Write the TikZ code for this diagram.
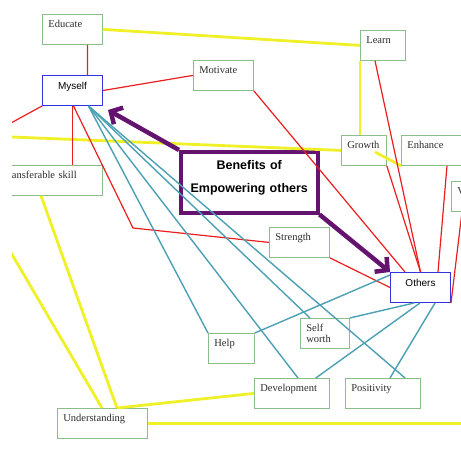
\documentclass[tikz,border=0pt]{standalone}
\usepackage{fontspec}
\setmainfont{Liberation Serif}
\setsansfont{Liberation Sans}
\usepackage{xcolor}
\usetikzlibrary{arrows.meta}
\definecolor{boxgreen}{RGB}{140,190,140}
\definecolor{boxblue}{RGB}{50,50,225}
\definecolor{linered}{RGB}{235,30,30}
\definecolor{lineteal}{RGB}{75,160,180}
\definecolor{lineyellow}{RGB}{240,240,40}
\definecolor{benefitpurple}{RGB}{100,20,110}
\definecolor{labelgray}{RGB}{45,45,45}

\begin{document}
\begin{tikzpicture}[x=1pt,y=-1pt,
    idea/.style={draw=boxgreen, line width=0.8pt, anchor=north west, inner xsep=6pt, inner ysep=0pt,
        text height=13pt, text depth=17pt, align=left, text=labelgray, font=\fontsize{10.5}{11}\selectfont},
    person/.style={idea, draw=boxblue, line width=1pt, align=center, text=black, text height=14pt, text depth=16pt,
        font=\sffamily\fontsize{10}{12}\selectfont},
    redlink/.style={draw=linered, line width=1.2pt},
    teallink/.style={draw=lineteal, line width=1.4pt},
    yellowlink/.style={draw=lineyellow, line width=2.8pt},
    bigarrow/.style={draw=benefitpurple, line width=4.5pt, -{Straight Barb[length=9pt,width=19pt]}}]
        \useasboundingbox (0,0) rectangle (461,461);
        \clip (12,0) rectangle (461,461);

        \node[idea, text width=48pt] (educate) at (42,14) {Educate};
        \node[idea, text width=33pt] (learn) at (360,30) {Learn};
        \node[person, text width=48pt] (myself) at (42,75) {Myself};
        \node[idea, text width=48pt] (motivate) at (193,60) {Motivate};
        \node[idea, text width=33pt] (growth) at (341,135) {Growth};
        \node[idea, text width=58pt] (enhance) at (401,135) {Enhance};
        \node[idea, text width=40pt] (partial) at (451,181) {V};
        \node[idea, text width=94pt] (transfer) at (-4,165) {Transferable skill};
        \node[idea, text width=48pt] (strength) at (269,227) {Strength};
        \node[person, text width=48pt] (others) at (390,272) {Others};
        \node[idea, text width=34pt] (help) at (208,333) {Help};
        \node[idea, text width=37pt] (selfworth) at (300,318) {Self\\worth};
        \node[idea, text width=63pt] (development) at (254,378) {Development};
        \node[idea, text width=63pt] (positivity) at (345,378) {Positivity};
        \node[idea, text width=78pt] (understanding) at (57,408) {Understanding};
        \node[draw=benefitpurple, line width=3.5pt, anchor=north west, inner xsep=0pt, inner ysep=0pt,
            text width=137pt, text height=18pt, text depth=43pt, align=center,
            font=\sffamily\bfseries\fontsize{12.5}{23}\selectfont] (benefits) at (179,150) {Benefits of\\Empowering others};

        \coordinate (westtop) at (0,136.5);
        \coordinate (westmid) at (0,129);
        \coordinate (westlow) at (0,234);
        \coordinate (eastlow) at (470,423);
        \coordinate (bend) at (133,228);

        \draw[yellowlink] (educate.east) -- (learn.west);
        \draw[yellowlink] (learn.south west) -- (learn.south west |- growth.north);
        \draw[yellowlink] (westtop) -- (growth.west);
        \draw[yellowlink] ([xshift=34pt,yshift=-17pt]growth.north west) -- (enhance.south west);
        \draw[yellowlink] ([xshift=45pt]transfer.south west) -- ([xshift=60pt]understanding.north west);
        \draw[yellowlink] (westlow) -- ([xshift=45pt]understanding.north west);
        \draw[yellowlink] ([xshift=60pt]understanding.north west) -- (development.west);
        \draw[yellowlink] (understanding.east) -- (eastlow |- understanding.east);

        \draw[redlink] ([xshift=15pt]educate.south) -- ([xshift=15pt]myself.north);
        \draw[redlink] (myself.east) -- (motivate.west);
        \draw[redlink] (myself.south west) -- (westmid);
        \draw[redlink] (myself.south) -- (myself.south |- transfer.north);
        \draw[redlink] ([xshift=1pt]myself.south) -- (bend) -- (strength.west);
        \draw[redlink] (motivate.south east) -- ([xshift=15pt]others.north west);
        \draw[redlink] ([xshift=15pt]learn.south west) -- (others.north);
        \draw[redlink] (growth.south east) -- (others.north);
        \draw[redlink] ([xshift=46pt]enhance.south west) -- ([xshift=-13pt]others.north east);
        \draw[redlink] ([xshift=11pt]partial.south west) -- (others.south east);
        \draw[redlink] (strength.south east) -- (others.west);

        \draw[teallink] ([xshift=16pt]myself.south) -- (help.north west);
        \draw[teallink] ([xshift=16pt]myself.south) -- ([xshift=44pt]development.north west);
        \draw[teallink] ([xshift=16pt]myself.south) -- ([xshift=10pt]selfworth.north west);
        \draw[teallink] ([xshift=16pt]myself.south) -- ([xshift=60pt]positivity.north west);
        \draw[teallink] ([yshift=-3pt]others.north west) -- (help.north east);
        \draw[teallink] ([xshift=24pt]others.south west) -- (selfworth.north east);
        \draw[teallink] ([xshift=30pt]others.south west) -- ([xshift=-14pt]development.north east);
        \draw[teallink] ([xshift=45pt]others.south west) -- ([xshift=45pt]positivity.north west);

        \draw[bigarrow] (benefits.north west) -- ([xshift=5pt,yshift=-4pt]myself.south east);
        \draw[bigarrow] (benefits.south east) -- (others.north west);
    \end{tikzpicture}
\end{document}
